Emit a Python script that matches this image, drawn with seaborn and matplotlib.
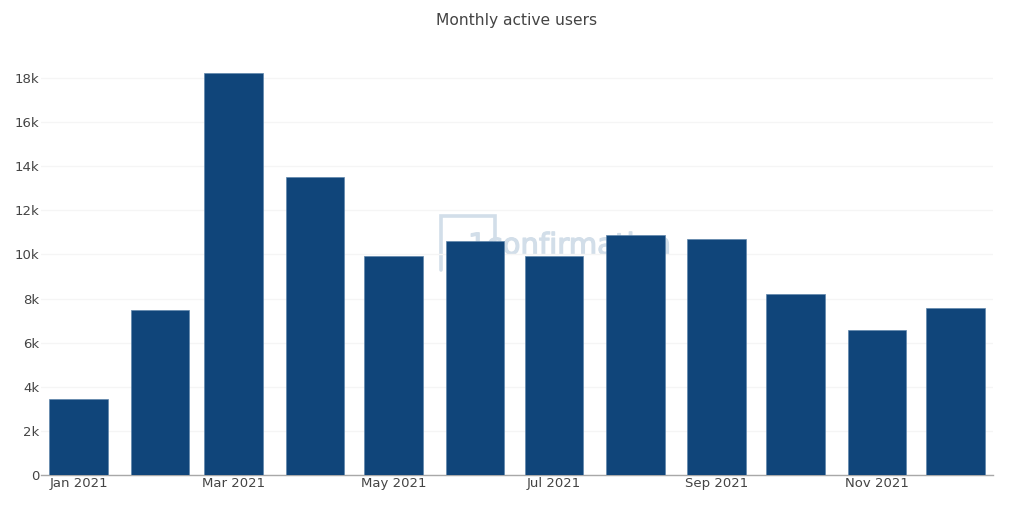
"""
Monthly active users bar chart, saved as out.png.
"""

import matplotlib.dates as mdates
import matplotlib.patheffects as pe
import matplotlib.pyplot as plt
import numpy as np
import pandas as pd
import seaborn as sns
from matplotlib.lines import Line2D

# --- Chart data ---
MONTHS = ["2021-01-01", "2021-02-01", "2021-03-01", "2021-04-01", "2021-05-01", "2021-06-01",
          "2021-07-01", "2021-08-01", "2021-09-01", "2021-10-01", "2021-11-01", "2021-12-01"]
ACTIVE_USERS = [3445, 7480, 18220, 13530, 9905, 10585, 9950, 10857, 10700, 8205, 6573, 7570]
Y_TICKS = [0, 2000, 4000, 6000, 8000, 10000, 12000, 14000, 16000, 18000]
Y_LABELS = ["0", "2k", "4k", "6k", "8k", "10k", "12k", "14k", "16k", "18k"]
X_TICK_MONTHS = ["2021-01-01", "2021-03-01", "2021-05-01", "2021-07-01", "2021-09-01", "2021-11-01"]
X_LABELS = ["Jan 2021", "Mar 2021", "May 2021", "Jul 2021", "Sep 2021", "Nov 2021"]

W, H = 1034, 517
TEXT_COLOR = "#444444"
BAR_COLOR = "#10457A"
MARK_COLOR = "#D2DEE9"


def main() -> None:
    sns.set_theme(style="white")
    plt.rcParams["font.family"] = ["DejaVu Sans"]

    fig = plt.figure(figsize=(W / 100, H / 100), dpi=100)
    # plot area in pixels: x 41-993, y 50-475
    ax = fig.add_axes([41 / W, (H - 475) / H, 952 / W, 425 / H])
    ax.patch.set_alpha(0)

    x = mdates.date2num(pd.to_datetime(MONTHS))
    df = pd.DataFrame({"month": x, "users": ACTIVE_USERS})
    sns.barplot(
        data=df,
        x="month",
        y="users",
        native_scale=True,
        width=0.795,
        color=BAR_COLOR,
        saturation=1,
        edgecolor="#5F86AC",
        linewidth=0.5,
        errorbar=None,
        zorder=3,
        ax=ax,
    )

    ax.set_xlim(x[0] - 14.28, x[0] + 348.2)
    ax.set_ylim(0, 19266)
    ax.set_xticks(mdates.date2num(pd.to_datetime(X_TICK_MONTHS)))
    ax.set_xticklabels(X_LABELS)
    ax.set_yticks(Y_TICKS)
    ax.set_yticklabels(Y_LABELS)
    ax.set_xlabel("")
    ax.set_ylabel("")
    ax.tick_params(axis="both", length=0, labelsize=9.5, labelcolor=TEXT_COLOR)
    ax.tick_params(axis="x", pad=1.5)
    ax.tick_params(axis="y", pad=1)
    ax.grid(axis="y", color="#F5F5F5", linewidth=1)
    ax.grid(axis="x", visible=False)
    ax.set_axisbelow(True)
    sns.despine(ax=ax, left=True)
    ax.spines["bottom"].set_color("#A8A8A8")
    ax.spines["bottom"].set_linewidth(1)

    # watermark sits behind the bars
    bx = np.array([441, 441, 495, 495]) / W
    by = 1 - np.array([270, 216, 216, 240]) / H
    fig.add_artist(Line2D(bx, by, color=MARK_COLOR, linewidth=2.6, solid_joinstyle="miter", zorder=-1))
    mark = fig.text(468 / W, 1 - 254 / H, "1confirmation", fontsize=21, color=MARK_COLOR,
                    ha="left", va="baseline", zorder=-1)
    mark.set_path_effects([pe.withStroke(linewidth=0.9, foreground=MARK_COLOR)])

    fig.text(517 / W, 1 - 20 / H, "Monthly active users", fontsize=11.2, color=TEXT_COLOR,
             ha="center", va="center")

    fig.savefig("out.png", dpi=100)
    plt.close(fig)


if __name__ == "__main__":
    main()
